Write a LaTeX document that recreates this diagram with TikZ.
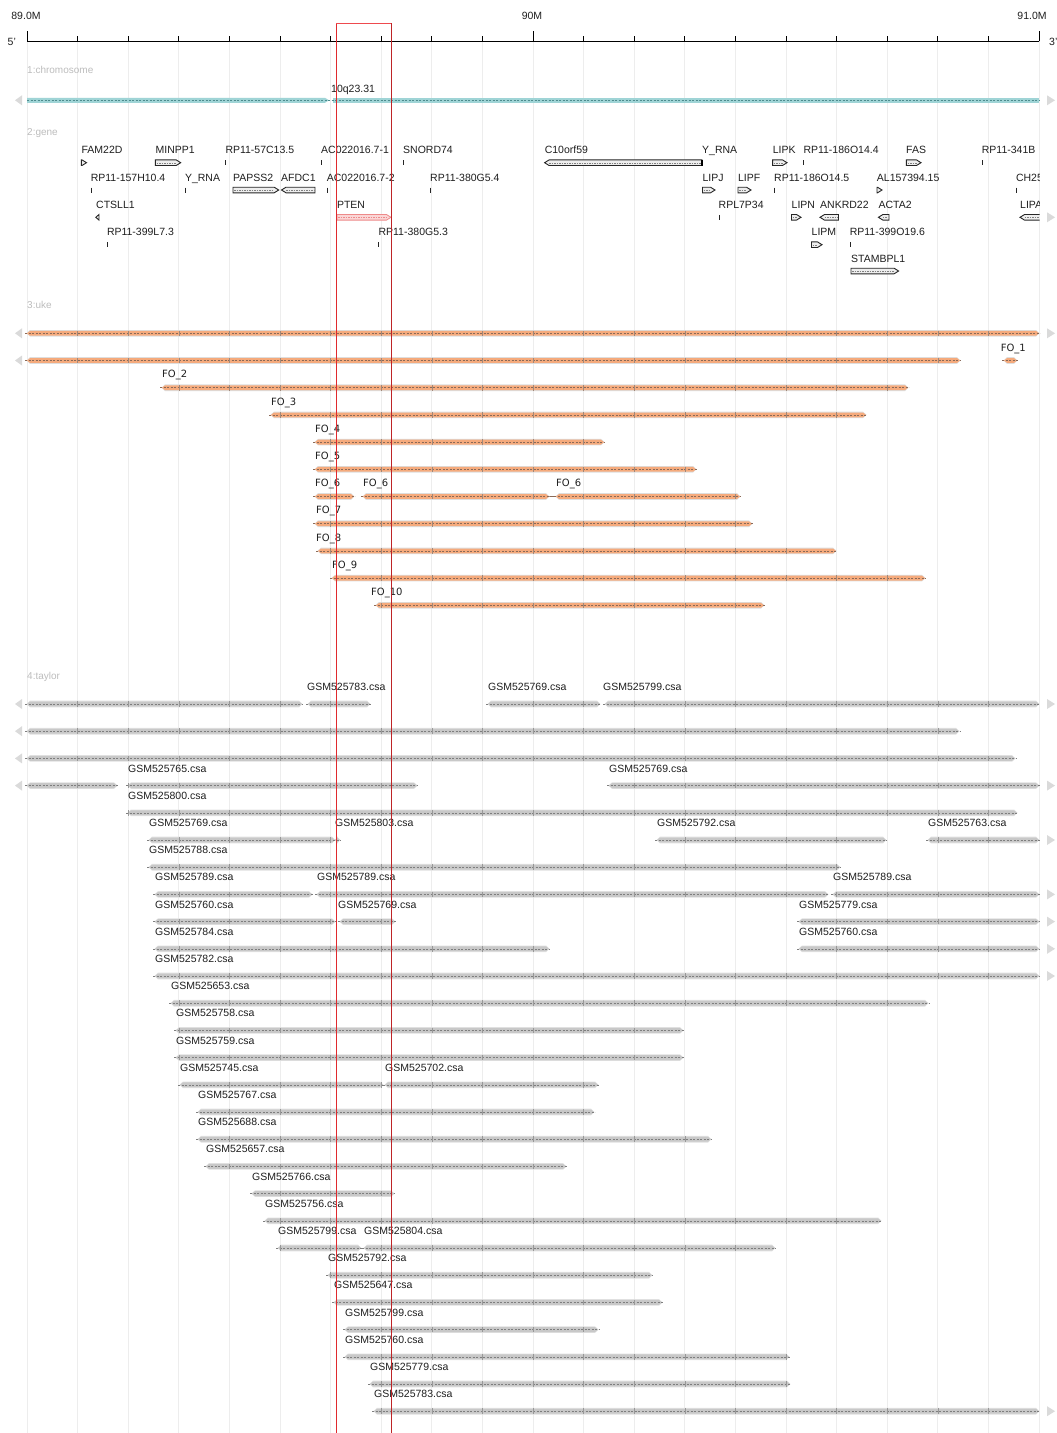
\documentclass[tikz,border=0pt]{standalone}
\usepackage{fontspec}
\setmainfont{Liberation Sans}
\newfontfamily\djv{DejaVu Sans}
\definecolor{gridc}{HTML}{EDEDED}
\definecolor{trk}{HTML}{BDBDBD}
\definecolor{tri}{HTML}{DADADA}
\definecolor{chrf}{HTML}{9FD4D6}
\definecolor{chrd}{HTML}{4E8C8E}
\definecolor{ukef}{HTML}{F5AA7C}
\definecolor{ukeh}{HTML}{DEDEDE}
\definecolor{uked}{HTML}{8A6A58}
\definecolor{tayf}{HTML}{C8C8C8}
\definecolor{tayh}{HTML}{E0E0E0}
\definecolor{tayd}{HTML}{7E7E7E}
\definecolor{genf}{HTML}{EEEEEE}
\definecolor{ptenf}{HTML}{FAD6D6}
\definecolor{ptend}{HTML}{EE8A8A}
\definecolor{boxr}{HTML}{E02A2E}
\definecolor{boxt}{HTML}{EE4A4E}

% bar: y, x1, x2, fill, dash, halo
\newcommand{\trbar}[6]{%
  \pgfmathsetmacro\ta{#2+3}\pgfmathsetmacro\tb{#3-3}%
  \fill[#6] (#2-0.5,#1) -- (\ta,#1-3.3) -- (\tb,#1-3.3) -- (#3+0.5,#1) -- (\tb,#1+3.3) -- (\ta,#1+3.3) -- cycle;
  \fill[#4] (#2,#1) -- (\ta,#1-2.4) -- (\tb,#1-2.4) -- (#3,#1) -- (\tb,#1+2.4) -- (\ta,#1+2.4) -- cycle;
  \draw[#5, line width=0.5pt, dash pattern=on 2.2pt off 1.3pt] (#2-2,#1) -- (#3+1,#1);
  \foreach \k in {0,...,20}{\pgfmathsetmacro\gx{27+50.6*\k}%
    \ifdim\gx pt>#2pt\relax\ifdim\gx pt<#3pt\relax
      \draw[#5!80, line width=0.5pt] (\gx,#1-2.8) -- (\gx,#1+2.8);
    \fi\fi}%
}
\newcommand{\ltri}[1]{\fill[tri] (15,#1) -- (22,#1-5) -- (22,#1+5) -- cycle;}
\newcommand{\rtri}[1]{\fill[tri] (1055,#1) -- (1047,#1-5) -- (1047,#1+5) -- cycle;}
\newcommand{\gtick}[2]{\draw[black!85, line width=1pt] (#2,#1-2.5) -- (#2,#1+2.5);}
\newcommand{\gright}[3]{%
  \pgfmathsetmacro\tipx{max(#2,#3-4.5)}%
  \draw[gline] (#2,#1-2.8) -- (\tipx,#1-2.8) -- (#3,#1) -- (\tipx,#1+2.8) -- (#2,#1+2.8) -- cycle;
  \ifdim\tipx pt>\dimexpr #2pt+3pt\relax \draw[gdash] (#2+1.2,#1) -- (\tipx,#1);\fi}
\newcommand{\gleft}[3]{%
  \pgfmathsetmacro\tipx{min(#3,#2+4.5)}%
  \draw[gline] (#2,#1) -- (\tipx,#1-2.8) -- (#3,#1-2.8) -- (#3,#1+2.8) -- (\tipx,#1+2.8) -- cycle;
  \ifdim\tipx pt<\dimexpr #3pt-3pt\relax \draw[gdash] (\tipx,#1) -- (#3-1.2,#1);\fi}
\newcommand{\glab}[3]{\node[glabel] at (#2,#1+3.8) {#3};}
\newcommand{\ulab}[3]{\node[ulabel] at (#2,#1+3.7) {#3};}

\begin{document}
\begin{tikzpicture}[x=1pt,y=-1pt,
  glabel/.style={font=\fontsize{10.5}{12}\selectfont, inner sep=0pt, anchor=base west, text=black!88},
  tlabel/.style={font=\fontsize{10}{12}\selectfont, inner sep=0pt, anchor=base west, text=trk},
  ulabel/.style={font=\djv\fontsize{10}{12}\selectfont, inner sep=0pt, anchor=base west, text=black!88},
  gline/.style={draw=black!85, line width=0.9pt, fill=genf, line join=miter},
  gdash/.style={draw=black!50, line width=0.4pt, dash pattern=on 1.5pt off 1pt},
]
\useasboundingbox (0,0) rectangle (1057,1433);
\fill[white] (0,0) rectangle (1057,1433);

% grid
\foreach \k in {0,...,20} \draw[gridc, line width=0.9pt] ({27+50.6*\k},41) -- ({27+50.6*\k},1433);

% ruler
\draw[black, line width=1pt] (27,41.3) -- (1039,41.3);
\foreach \k in {0,...,20} \draw[black, line width=0.9pt] ({27+50.6*\k},41.3) -- ({27+50.6*\k},36);
\foreach \k in {0,10,20} \draw[black, line width=0.9pt] ({27+50.6*\k},41.3) -- ({27+50.6*\k},31);
\node[glabel, anchor=base] (r89) at (26,19) {89.0M};
\node[glabel, anchor=base] (r90) at (532,19) {90M};
\node[glabel, anchor=base] (r91) at (1032,19) {91.0M};
\node[glabel] (p5) at (7.5,45) {5'};
\node[glabel] (p3) at (1049,45) {3'};

% track 1
\node[tlabel] (t1) at (27,73.5) {1:chromosome};
\ltri{100.3}\rtri{100.3}
\fill[chrf] (27,97.8) -- (325,97.8) -- (329,100.3) -- (325,102.8) -- (27,102.8) -- cycle;
\fill[chrf] (333,97.8) rectangle (1039,102.8);
\draw[chrd, line width=0.5pt, dash pattern=on 2.2pt off 1.3pt] (27,100.3) -- (1039,100.3);
\node[glabel] (band) at (331,92.5) {10q23.31};

% track 2
\node[tlabel] (t2) at (27,135.5) {2:gene};
% row 1
\glab{150}{81.4}{FAM22D}\gright{162.7}{81.4}{86.5}
\glab{150}{155.4}{MINPP1}\gright{162.7}{155.4}{180.7}
\glab{150}{225.3}{RP11-57C13.5}\gtick{162.7}{225.5}
\glab{150}{321}{AC022016.7-1}\gtick{162.7}{321.3}
\glab{150}{403}{SNORD74}\gtick{162.7}{403.3}
\glab{150}{544.6}{C10orf59}\gleft{162.7}{544.6}{702}
\glab{150}{702}{Y\_RNA}\draw[black, line width=1.8pt] (702,159.9) -- (702,165.5);
\glab{150}{772.6}{LIPK}\gright{162.7}{772.6}{787}
\glab{150}{803.3}{RP11-186O14.4}\gtick{162.7}{803.5}
\glab{150}{906}{FAS}\gright{162.7}{906.3}{921}
% row 2
\glab{177.3}{90.6}{RP11-157H10.4}\gtick{190}{91}
\glab{177.3}{184.8}{Y\_RNA}\gtick{190}{185}
\glab{177.3}{233}{PAPSS2}\gright{190}{233}{278.7}
\glab{177.3}{281}{AFDC1}\gleft{190}{281.5}{315}
\glab{177.3}{326.7}{AC022016.7-2}\gtick{190}{327}
\glab{177.3}{430}{RP11-380G5.4}\gtick{190}{430}
\glab{177.3}{702.3}{LIPJ}\gright{190}{702.5}{715}
\glab{177.3}{737.8}{LIPF}\gright{190}{738}{751}
\glab{177.3}{774}{RP11-186O14.5}\gtick{190}{774}
\glab{177.3}{876.7}{AL157394.15}\gright{190}{877}{882}
% row 3
\glab{204.4}{96}{CTSLL1}\gleft{217.3}{95.8}{99}
\glab{204.4}{336.8}{PTEN}
\draw[ptend, line width=0.8pt, fill=ptenf] (337,214.5) -- (386.5,214.5) -- (391,217.3) -- (386.5,220.1) -- (337,220.1) -- cycle;
\draw[ptend, line width=0.4pt, dash pattern=on 1.5pt off 1pt] (338,217.3) -- (386,217.3);
\glab{204.4}{718.5}{RPL7P34}\gtick{217.3}{719}
\glab{204.4}{791.5}{LIPN}\gright{217.3}{791.5}{801}
\glab{204.4}{820}{ANKRD22}\gleft{217.3}{820}{838.5}
\glab{204.4}{878.4}{ACTA2}\gleft{217.3}{878.4}{889}
\rtri{217.3}
% row 4
\glab{231.2}{106.8}{RP11-399L7.3}\gtick{244.7}{107}
\glab{231.2}{378.4}{RP11-380G5.3}\gtick{244.7}{378.5}
\glab{231.2}{811.5}{LIPM}\gright{244.7}{811.5}{822}
\glab{231.2}{849.6}{RP11-399O19.6}\gtick{244.7}{850}
% row 5
\glab{258.3}{851}{STAMBPL1}\gright{271}{851}{898.6}
% clipped items at right edge
\begin{scope}
\clip (0,0) rectangle (1039.5,300);
\glab{150}{981.7}{RP11-341B}\gtick{162.7}{982}
\glab{177.3}{1015.8}{CH25}\gtick{190}{1016}
\glab{204.4}{1020}{LIPA}\gleft{217.3}{1020}{1046}
\end{scope}

% track 3 uke
\node[tlabel] (t3) at (27,308) {3:uke};
\ltri{333.3}\rtri{333.3}\ltri{360.5}
\trbar{333.3}{27}{1039}{ukef}{uked}{ukeh}
\trbar{360.5}{27}{960}{ukef}{uked}{ukeh}
\trbar{360.5}{1004}{1017}{ukef}{uked}{ukeh}\ulab{347.3}{1000.6}{FO\_1}
\trbar{387.7}{162}{908}{ukef}{uked}{ukeh}\ulab{374.2}{162}{FO\_2}
\trbar{414.9}{271}{866}{ukef}{uked}{ukeh}\ulab{401.4}{271}{FO\_3}
\trbar{442.1}{315}{604}{ukef}{uked}{ukeh}\ulab{428.6}{315}{FO\_4}
\trbar{469.3}{315}{696}{ukef}{uked}{ukeh}\ulab{455.8}{315}{FO\_5}
\draw[uked, line width=0.5pt] (549,496.5) -- (556,496.5);
\trbar{496.5}{315}{354}{ukef}{uked}{ukeh}\ulab{483}{315}{FO\_6}
\trbar{496.5}{363}{549}{ukef}{uked}{ukeh}\ulab{483}{363}{FO\_6}
\trbar{496.5}{556}{740}{ukef}{uked}{ukeh}\ulab{483}{556}{FO\_6}
\trbar{523.7}{315}{752}{ukef}{uked}{ukeh}\ulab{510.2}{316}{FO\_7}
\trbar{550.9}{318}{836}{ukef}{uked}{ukeh}\ulab{537.4}{316}{FO\_8}
\trbar{578.1}{332}{925}{ukef}{uked}{ukeh}\ulab{564.6}{332}{FO\_9}
\trbar{605.3}{376}{764}{ukef}{uked}{ukeh}\ulab{591.8}{371}{FO\_10}

% track 4 taylor
\node[tlabel] (t4) at (27,679.5) {4:taylor};
\foreach \r in {0,1,2,3} {\pgfmathsetmacro\ty{704+27.2*\r}\ltri{\ty}}
\foreach \r in {0,3,5,7,8,9,10,26} {\pgfmathsetmacro\ty{704+27.2*\r}\rtri{\ty}}
\foreach \r/\a/\b in {0/27/302, 1/27/959, 2/27/1015, 3/27/117} {%
  \pgfmathsetmacro\ty{704+27.2*\r}\trbar{\ty}{\a}{\b}{tayf}{tayd}{tayh}}
\foreach \r/\a/\b/\lx/\t in {
  0/308/370/307/GSM525783.csa, 0/488/600/488/GSM525769.csa, 0/605/1039/603/GSM525799.csa,
  3/128/417/128/GSM525765.csa, 3/609/1039/609/GSM525769.csa,
  4/128/1017/128/GSM525800.csa,
  5/149/335/149/GSM525769.csa, 5/335/340/335/GSM525803.csa, 5/657/886/657/GSM525792.csa, 5/928/1039/928/GSM525763.csa,
  6/149/840/149/GSM525788.csa,
  7/155/312/155/GSM525789.csa, 7/317/828/317/GSM525789.csa, 7/833/1039/833/GSM525789.csa,
  8/155/335/155/GSM525760.csa, 8/340/395/338/GSM525769.csa, 8/799/1039/799/GSM525779.csa,
  9/155/549/155/GSM525784.csa, 9/799/1039/799/GSM525760.csa,
  10/155/1039/155/GSM525782.csa,
  11/171/928/171/GSM525653.csa,
  12/176/683/176/GSM525758.csa,
  13/176/683/176/GSM525759.csa,
  14/180/383/180/GSM525745.csa, 14/385/598/385/GSM525702.csa,
  15/198/594/198/GSM525767.csa,
  16/198/711/198/GSM525688.csa,
  17/206/566/206/GSM525657.csa,
  18/252/394/252/GSM525766.csa,
  19/265/881/265/GSM525756.csa,
  20/278/361/278/GSM525799.csa, 20/364/775/364/GSM525804.csa,
  21/328/652/328/GSM525792.csa,
  22/334/662/334/GSM525647.csa,
  23/345/598/345/GSM525799.csa,
  24/345/789/345/GSM525760.csa,
  25/370/790/370/GSM525779.csa,
  26/374/1039/374/GSM525783.csa} {%
  \pgfmathsetmacro\ty{704+27.2*\r}%
  \trbar{\ty}{\a}{\b}{tayf}{tayd}{tayh}%
  \node[glabel] at (\lx,\ty-17.3+3.8) {\t};
}

% highlight box
\draw[boxr, line width=0.9pt] (336,23.3) -- (336,1433);
\draw[boxr!85!black, line width=0.9pt] (391,23.3) -- (391,1433);
\draw[boxt, line width=1pt] (336,23.3) -- (391,23.3);
\end{tikzpicture}
\end{document}
